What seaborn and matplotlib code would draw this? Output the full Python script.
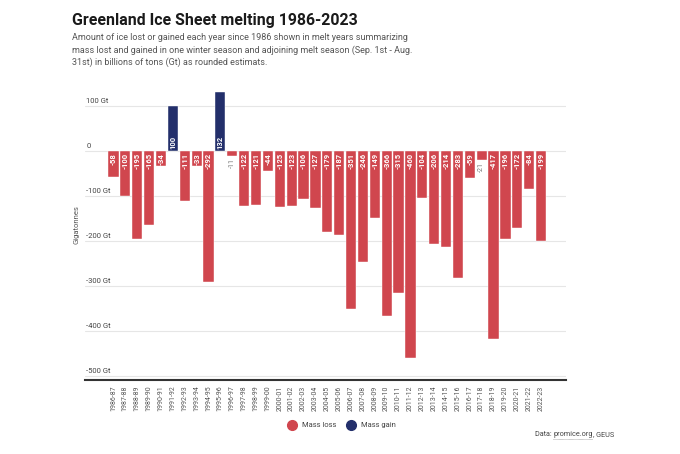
import matplotlib
matplotlib.use("Agg")
import matplotlib.pyplot as plt
import matplotlib.transforms as mtransforms
from matplotlib.lines import Line2D
import seaborn as sns
import pandas as pd

seasons = ["1986-87", "1987-88", "1988-89", "1989-90", "1990-91", "1991-92", "1992-93",
           "1993-94", "1994-95", "1995-96", "1996-97", "1997-98", "1998-99", "1999-00",
           "2000-01", "2001-02", "2002-03", "2003-04", "2004-05", "2005-06", "2006-07",
           "2007-08", "2008-09", "2009-10", "2010-11", "2011-12", "2012-13", "2013-14",
           "2014-15", "2015-16", "2016-17", "2017-18", "2018-19", "2019-20", "2020-21",
           "2021-22", "2022-23"]
values = [-58, -100, -195, -165, -34, 100, -111, -33, -292, 132, -11, -122, -121, -44,
          -125, -123, -106, -127, -179, -187, -351, -246, -149, -366, -315, -460, -104,
          -206, -214, -283, -59, -21, -417, -196, -172, -84, -199]
ytick_values = [100, 0, -100, -200, -300, -400, -500]
ytick_labels = ["100 Gt", "0", "-100 Gt", "-200 Gt", "-300 Gt", "-400 Gt", "-500 Gt"]
legend_labels = ["Mass loss", "Mass gain"]

RED = "#d0464e"
NAVY = "#232f6b"

sns.set_theme(style="white")
plt.rcParams["font.family"] = ["Roboto", "DejaVu Sans"]

df = pd.DataFrame({"season": seasons, "value": values})
df["kind"] = [legend_labels[1] if v > 0 else legend_labels[0] for v in values]

fig = plt.figure(figsize=(6.8, 4.54), dpi=100)
ax = fig.add_axes([85 / 680, 1 - 380 / 454, (566 - 85) / 680, (380 - 88) / 454])

sns.barplot(data=df, x="season", y="value", hue="kind",
            palette={legend_labels[0]: RED, legend_labels[1]: NAVY},
            dodge=False, width=0.86, legend=False, ax=ax, saturation=1,
            edgecolor="white", linewidth=0.3, zorder=3)

ax.set_xlim(-2.4, 38.1)
ax.set_ylim(-509, 140)

# gridlines
ax.set_yticks(ytick_values)
ax.yaxis.grid(True, color="#e6e6e6", linewidth=0.8, zorder=0)
ax.set_yticklabels([])
ax.tick_params(axis="y", length=0)
trans = mtransforms.blended_transform_factory(ax.transAxes, ax.transData)
for v, lab in zip(ytick_values, ytick_labels):
    ax.text(0.003, v + 4, lab, transform=trans, ha="left", va="bottom",
            fontsize=5.5, color="#444444")

for s in ["top", "right", "left"]:
    ax.spines[s].set_visible(False)
ax.spines["bottom"].set_color("#333333")
ax.spines["bottom"].set_linewidth(1.5)

ax.set_xlabel("")
ax.set_ylabel("")
ax.tick_params(axis="x", length=0, pad=4)
ax.set_xticks(range(len(seasons)))
ax.set_xticklabels(seasons, rotation=90, fontsize=5, color="#555555")

# bar labels
for i, v in enumerate(values):
    lab = f"{v}"
    if abs(v) < 30:
        ax.text(i, v - 4, lab, rotation=90, ha="center", va="top",
                fontsize=5.2, color="#777777", zorder=4)
    elif v > 0:
        ax.text(i, 4, lab, rotation=90, ha="center", va="bottom",
                fontsize=5.5, color="white", fontweight="bold", zorder=4)
    else:
        ax.text(i, -4, lab, rotation=90, ha="center", va="top",
                fontsize=5.5, color="white", fontweight="bold", zorder=4)

# y axis label
fig.text(77 / 680, 1 - 225 / 454, "Gigatonnes", rotation=90, ha="center", va="center",
         fontsize=5.5, color="#555555")

# titles
fig.text(72 / 680, 1 - 20 / 454, "Greenland Ice Sheet melting 1986-2023", ha="left",
         va="center", fontsize=11.4, fontweight="bold", color="#1a1a1a")
sub = ["Amount of ice lost or gained each year since 1986 shown in melt years summarizing",
       "mass lost and gained in one winter season and adjoining melt season (Sep. 1st - Aug.",
       "31st) in billions of tons (Gt) as rounded estimats."]
for k, line in enumerate(sub):
    fig.text(72 / 680, 1 - (38 + 12 * k) / 454, line, ha="left", va="center",
             fontsize=6.5, color="#555555")

# legend
handles = [Line2D([0], [0], marker="o", linestyle="", markersize=7, markerfacecolor=RED,
                  markeredgecolor=RED),
           Line2D([0], [0], marker="o", linestyle="", markersize=7, markerfacecolor=NAVY,
                  markeredgecolor=NAVY)]
fig.legend(handles, legend_labels, loc="center", bbox_to_anchor=(340 / 680, 1 - 425 / 454),
           ncol=2, frameon=False, fontsize=5.5, handletextpad=0.3, columnspacing=1.0,
           labelcolor="#444444")

# source (pieces measured)
renderer = fig.canvas.get_renderer()
y_src = 1 - 435 / 454
x = 535
parts = []
for piece in ["Data: ", "promice.org", ", GEUS"]:
    t = fig.text(x / 680, y_src, piece, ha="left", va="center", fontsize=5.2,
                 color="#444444")
    bb = t.get_window_extent(renderer=renderer)
    parts.append((x, x + bb.width))
    x = x + bb.width
x0, x1 = parts[1]
fig.add_artist(Line2D([x0 / 680, x1 / 680], [1 - 439 / 454, 1 - 439 / 454],
                      color="#666666", linewidth=0.4, linestyle=(0, (1, 1))))

fig.savefig("out.png", dpi=100, facecolor="white")
